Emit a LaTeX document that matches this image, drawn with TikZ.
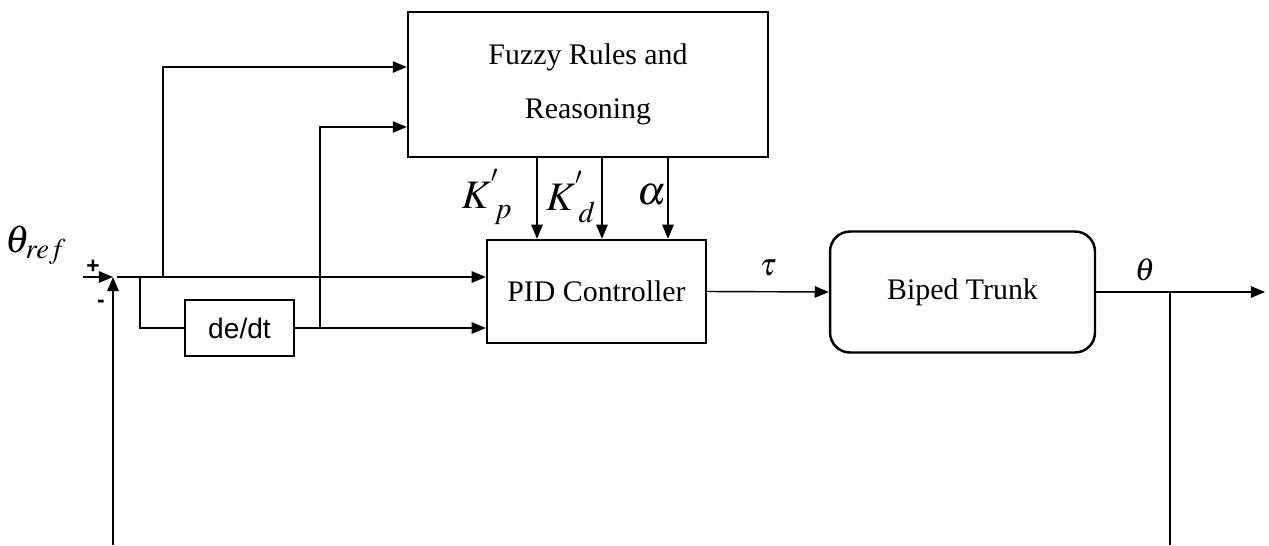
\documentclass[tikz,border=0pt]{standalone}
\usepackage{mathptmx}
\usepackage[no-math]{fontspec}
\setmainfont{Liberation Serif}
\newfontfamily\arialfont{Liberation Sans}
\usetikzlibrary{arrows.meta}

\tikzset{
  block/.style={draw, line width=1.4pt, inner sep=0pt, align=center, font=\fontsize{17}{31}\selectfont},
  wire/.style={line width=0.8pt},
  lbl/.style={inner sep=0pt, font=\fontsize{23}{26}\selectfont},
}

\begin{document}
\begin{tikzpicture}[x=0.02cm,y=-0.02cm,>={Triangle[length=8pt,width=6.5pt]}]
\useasboundingbox (0,0) rectangle (1269,545);

% blocks
\node [block, minimum width=7.2cm, minimum height=2.9cm] (fuzzy) at (588,84.5) {\raisebox{4pt}{Fuzzy Rules and}\\\raisebox{4pt}{Reasoning}};
\node [block, minimum width=4.38cm, minimum height=2.06cm] (pid) at (596.5,291.5) {PID Controller};
\node [block, rounded corners=0.4cm, minimum width=5.3cm, minimum height=2.42cm] (biped) at (962.5,292) {Biped Trunk};
\node [block, minimum width=2.18cm, minimum height=1.12cm, font=\arialfont\fontsize{16}{18}\selectfont] (dedt) at (239.5,328) {de/dt};

% junction and branch points
\coordinate (ref) at (83,277);
\coordinate (sum) at (113,277);
\coordinate (fb) at (113,545);
\coordinate (b1) at (163,277);
\coordinate (b2) at (140,277);
\coordinate (b3) at (320,328);
\coordinate (out) at (1265,292);
\coordinate (bot) at (1170,545);

\draw [wire,->] (ref) -- (sum);
\draw [wire,->] (fb) -- (sum);
\draw [wire,->] ([xshift=2pt]sum) -- (pid.west |- sum);
\draw [wire,->] (b1) |- ([yshift=0.35cm]fuzzy.west);
\draw [wire] (b2) |- (dedt.west);
\draw [wire,->] (dedt.east) -- (pid.west |- dedt.east);
\draw [wire,->] (b3) |- ([yshift=-0.85cm]fuzzy.west);

% gains from the fuzzy block
\foreach \i/\s in {1/-1.19,2/0.11,3/1.43} {
  \coordinate (k\i) at ([xshift=\s cm]pid.north);
  \draw [wire,->] (fuzzy.south -| k\i) -- (k\i);
}

\draw [wire,->] (pid.east) -- (biped.west) node [midway, above=5pt, font=\fontsize{18}{20}\selectfont] {$\tau$};
\draw [wire,->] (biped.east) -- (biped.east -| out);
\draw [wire] (biped.east -| bot) -- (bot);

% labels
\node [lbl, font=\fontsize{22}{26}\selectfont] (thref) at (36,245) {$\theta_{ref}$};
\node [inner sep=0pt, font=\arialfont\bfseries\fontsize{13}{14}\selectfont] (plus) at (93,267) {+};
\node [inner sep=0pt, font=\arialfont\bfseries\fontsize{13}{14}\selectfont] (minus) at (101,304) {-};
\node [lbl] (kp) at (487,197) {$K^{'}_{\;p}$};
\node [lbl] (kd) at (571,197) {$K^{'}_{\;d}$};
\node [lbl] (al) at (652,195) {$\alpha$};
\node [inner sep=0pt, font=\fontsize{18}{20}\selectfont] (th) at (1145,270) {$\theta$};
\end{tikzpicture}
\end{document}
